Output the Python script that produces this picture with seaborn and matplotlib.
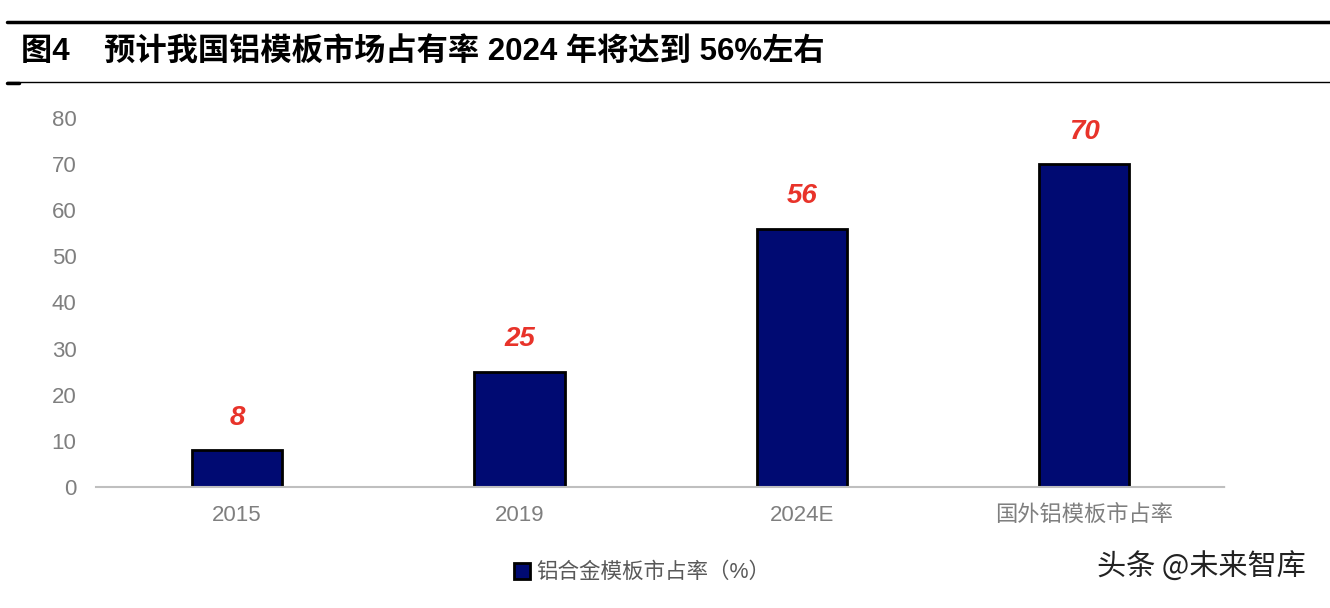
"""
Aluminium formwork market share bar chart (图4).
"""

import matplotlib.pyplot as plt
import matplotlib.lines as mlines
import pandas as pd
import seaborn as sns

categories = ["2015", "2019", "2024E", "国外铝模板市占率"]
share = [8, 25, 56, 70]
series_name = "铝合金模板市占率（%）"
title = "图4    预计我国铝模板市场占有率 2024 年将达到 56%左右"
yticks = [0, 10, 20, 30, 40, 50, 60, 70, 80]

sns.set_theme(style="white")
plt.rcParams["font.family"] = ["Liberation Sans", "Noto Sans CJK SC"]

df = pd.DataFrame({"category": categories, "share": share})

fig = plt.figure(figsize=(13.3, 6.08), dpi=100)
ax = fig.add_axes([0.0722, 0.199, 0.849, 0.607])

sns.barplot(
    data=df,
    x="category",
    y="share",
    color="#000A72",
    edgecolor="black",
    linewidth=2,
    width=0.32,
    saturation=1,
    label=series_name,
    ax=ax,
)

for patch, value in zip(ax.patches, share):
    ax.annotate(
        f"{value}",
        (patch.get_x() + patch.get_width() / 2, patch.get_height()),
        xytext=(0, 14),
        textcoords="offset points",
        ha="center",
        va="bottom",
        color="#E8332A",
        fontsize=20,
        fontweight="bold",
        fontstyle="italic",
    )

ax.set_xlim(-0.5, 3.5)
ax.set_ylim(0, 80)
ax.set_yticks(yticks)
ax.set_xlabel("")
ax.set_ylabel("")
ax.tick_params(axis="both", length=0, colors="#7F7F7F", labelsize=16)
ax.tick_params(axis="x", pad=13)
ax.tick_params(axis="y", pad=14)
for side in ["top", "right", "left"]:
    ax.spines[side].set_visible(False)
ax.spines["bottom"].set_color("#BFBFBF")
ax.spines["bottom"].set_linestyle((0, (1.5, 1)))
ax.spines["bottom"].set_linewidth(1.5)

ax.legend(
    loc="center",
    bbox_to_anchor=(0.483, 0.058),
    bbox_transform=fig.transFigure,
    frameon=False,
    fontsize=15.5,
    labelcolor="#595959",
    handlelength=0.75,
    handleheight=0.75,
    handletextpad=0.3,
)

# title block with rules above and below
fig.add_artist(mlines.Line2D([0.005, 1.0], [1 - 22 / 608] * 2, color="black", lw=2.5))
fig.add_artist(mlines.Line2D([0.005, 1.0], [1 - 82 / 608] * 2, color="black", lw=1))
fig.add_artist(mlines.Line2D([0.005, 0.014], [1 - 83 / 608] * 2, color="black", lw=2.5))
fig.text(0.016, 1 - 53 / 608, title, fontsize=22.5, fontweight="bold", va="center", ha="left",
         color="black")

fig.text(0.982, 1 - 568 / 608, "头条 @未来智库", fontsize=21, va="center", ha="right",
         color="#222222", family=["Noto Sans CJK SC", "DejaVu Sans"])

fig.savefig("out.png", dpi=100)
